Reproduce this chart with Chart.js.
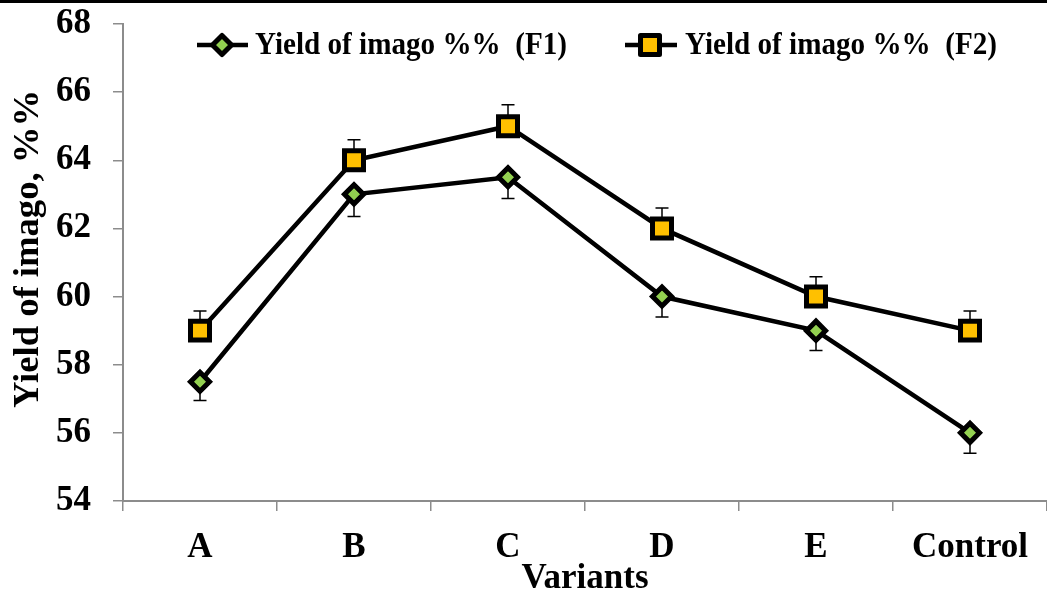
<!DOCTYPE html>
<html><head><meta charset="utf-8">
<script src="https://cdn.jsdelivr.net/npm/chart.js@4.4.0/dist/chart.umd.min.js"></script>
<style>html,body{margin:0;padding:0;background:#fff;overflow:hidden}#wrap{width:1047px;height:600px;position:relative}</style>
</head><body><div id="wrap"><canvas id="c"></canvas></div>
<script>
const categories = ['A', 'B', 'C', 'D', 'E', 'Control'];
const seriesNames = ['Yield of imago %%  (F1)', 'Yield of imago %%  (F2)'];
const f1Values = [57.5, 63, 63.5, 60, 59, 56];
const f2Values = [59, 64, 65, 62, 60, 59];
const f1Errors = [0.55, 0.65, 0.62, 0.6, 0.58, 0.6];
const f2Errors = [0.58, 0.6, 0.63, 0.6, 0.58, 0.58];
const yTickValues = [54, 56, 58, 60, 62, 64, 66, 68];
const xTitle = 'Variants';
const yTitle = 'Yield of imago, %%';

const FONT = '"Liberation Serif", "Times New Roman", serif';
const AXIS_GREY = '#8c8c8c';

function drawMarker(ctx, style, x, y, fill) {
  ctx.save();
  ctx.fillStyle = fill;
  ctx.strokeStyle = '#000';
  ctx.lineJoin = 'round';
  ctx.beginPath();
  if (style === 'rectRot') {
    const r = 9.5;
    ctx.moveTo(x, y - r); ctx.lineTo(x + r, y); ctx.lineTo(x, y + r); ctx.lineTo(x - r, y); ctx.closePath();
    ctx.lineWidth = 5;
  } else {
    const s = 9.5;
    ctx.rect(x - s, y - s, 2 * s, 2 * s);
    ctx.lineWidth = 5;
  }
  ctx.fill(); ctx.stroke();
  ctx.restore();
}

const errorBarPlugin = {
  id: 'errorBars',
  beforeDatasetsDraw(chart) {
    const ctx = chart.ctx;
    const yScale = chart.scales.y;
    chart.data.datasets.forEach((ds, di) => {
      const meta = chart.getDatasetMeta(di);
      meta.data.forEach((pt, i) => {
        const v = ds.data[i];
        const e = ds.errors[i];
        const yEnd = yScale.getPixelForValue(v + ds.errorDir * e);
        ctx.save();
        ctx.strokeStyle = '#000';
        ctx.lineWidth = 1.5;
        ctx.beginPath();
        ctx.moveTo(pt.x, pt.y); ctx.lineTo(pt.x, yEnd);
        ctx.moveTo(pt.x - 6.5, yEnd); ctx.lineTo(pt.x + 6.5, yEnd);
        ctx.stroke();
        ctx.restore();
      });
    });
  }
};

const decorPlugin = {
  id: 'decor',
  afterDraw(chart) {
    const ctx = chart.ctx;
    ctx.save();
    // top frame line
    ctx.fillStyle = '#000';
    ctx.fillRect(0, 0, chart.width, 3);
    // legend
    const items = [
      {lx1: 197, lx2: 248, mx: 222, tx: 255},
      {lx1: 625, lx2: 677, mx: 650, tx: 685}
    ];
    const ly = 45;
    chart.data.datasets.forEach((ds, i) => {
      const it = items[i];
      ctx.strokeStyle = '#000';
      ctx.lineWidth = 4.5;
      ctx.beginPath(); ctx.moveTo(it.lx1, ly); ctx.lineTo(it.lx2, ly); ctx.stroke();
      drawMarker(ctx, ds.pointStyle, it.mx, ly, ds.pointBackgroundColor);
      ctx.save();
      ctx.fillStyle = '#000';
      ctx.font = 'bold 32px ' + FONT;
      const tw = ctx.measureText(ds.label).width;
      ctx.translate(it.tx, ly + 1);
      ctx.scale(312 / tw, 1);
      ctx.textAlign = 'left';
      ctx.textBaseline = 'middle';
      ctx.fillText(ds.label, 0, 0);
      ctx.restore();
    });
    // y axis title
    ctx.save();
    ctx.translate(38, 249);
    ctx.rotate(-Math.PI / 2);
    ctx.font = 'bold 35px ' + FONT;
    const w = ctx.measureText(yTitle).width;
    ctx.scale(318 / w, 1);
    ctx.textAlign = 'center';
    ctx.textBaseline = 'alphabetic';
    ctx.fillStyle = '#000';
    ctx.fillText(yTitle, 0, 0);
    ctx.restore();
    ctx.restore();
  }
};

new Chart(document.getElementById('c'), {
  type: 'line',
  data: {
    labels: categories,
    datasets: [
      {
        label: seriesNames[0], data: f1Values, errors: f1Errors, errorDir: -1,
        borderColor: '#000', borderWidth: 4.5,
        pointStyle: 'rectRot', pointRadius: 9.5, pointBorderWidth: 5,
        pointBackgroundColor: '#92D050', pointBorderColor: '#000',
        pointHoverRadius: 9.5, tension: 0
      },
      {
        label: seriesNames[1], data: f2Values, errors: f2Errors, errorDir: 1,
        borderColor: '#000', borderWidth: 4.5,
        pointStyle: 'rect', pointRadius: 13.4, pointBorderWidth: 5,
        pointBackgroundColor: '#FFC000', pointBorderColor: '#000',
        pointHoverRadius: 13.4, tension: 0
      }
    ]
  },
  options: {
    responsive: true,
    maintainAspectRatio: false,
    animation: false,
    devicePixelRatio: 1,
    layout: {autoPadding: false, padding: {top: 24, right: -3, left: 0, bottom: 0}},
    plugins: {legend: {display: false}, tooltip: {enabled: false}},
    scales: {
      x: {
        type: 'category',
        offset: true,
        grid: {display: true, offset: true, drawOnChartArea: false, drawTicks: true, tickLength: 10, color: AXIS_GREY, lineWidth: 1.5},
        border: {display: true, color: AXIS_GREY, width: 2},
        ticks: {color: '#000', font: {family: FONT, size: 35, weight: 'bold'}, padding: 16, maxRotation: 0, autoSkip: false},
        title: {display: true, text: xTitle, color: '#000', font: {family: FONT, size: 35, weight: 'bold'}, padding: {top: 0, bottom: 0}},
        afterFit(scale) { scale.height = 99; scale.paddingLeft = 0; scale.paddingRight = 0; }
      },
      y: {
        min: yTickValues[0], max: yTickValues[yTickValues.length - 1],
        afterBuildTicks(scale) { scale.ticks = yTickValues.map(v => ({value: v})); },
        grid: {display: true, drawOnChartArea: false, drawTicks: true, tickLength: 10, color: AXIS_GREY, lineWidth: 1.5},
        border: {display: true, color: AXIS_GREY, width: 2},
        ticks: {color: '#000', font: {family: FONT, size: 35, weight: 'bold'}, padding: 22},
        afterFit(scale) { scale.width = 123; scale.paddingTop = 0; scale.paddingBottom = 0; }
      }
    }
  },
  plugins: [errorBarPlugin, decorPlugin]
});
</script>
</body></html>
